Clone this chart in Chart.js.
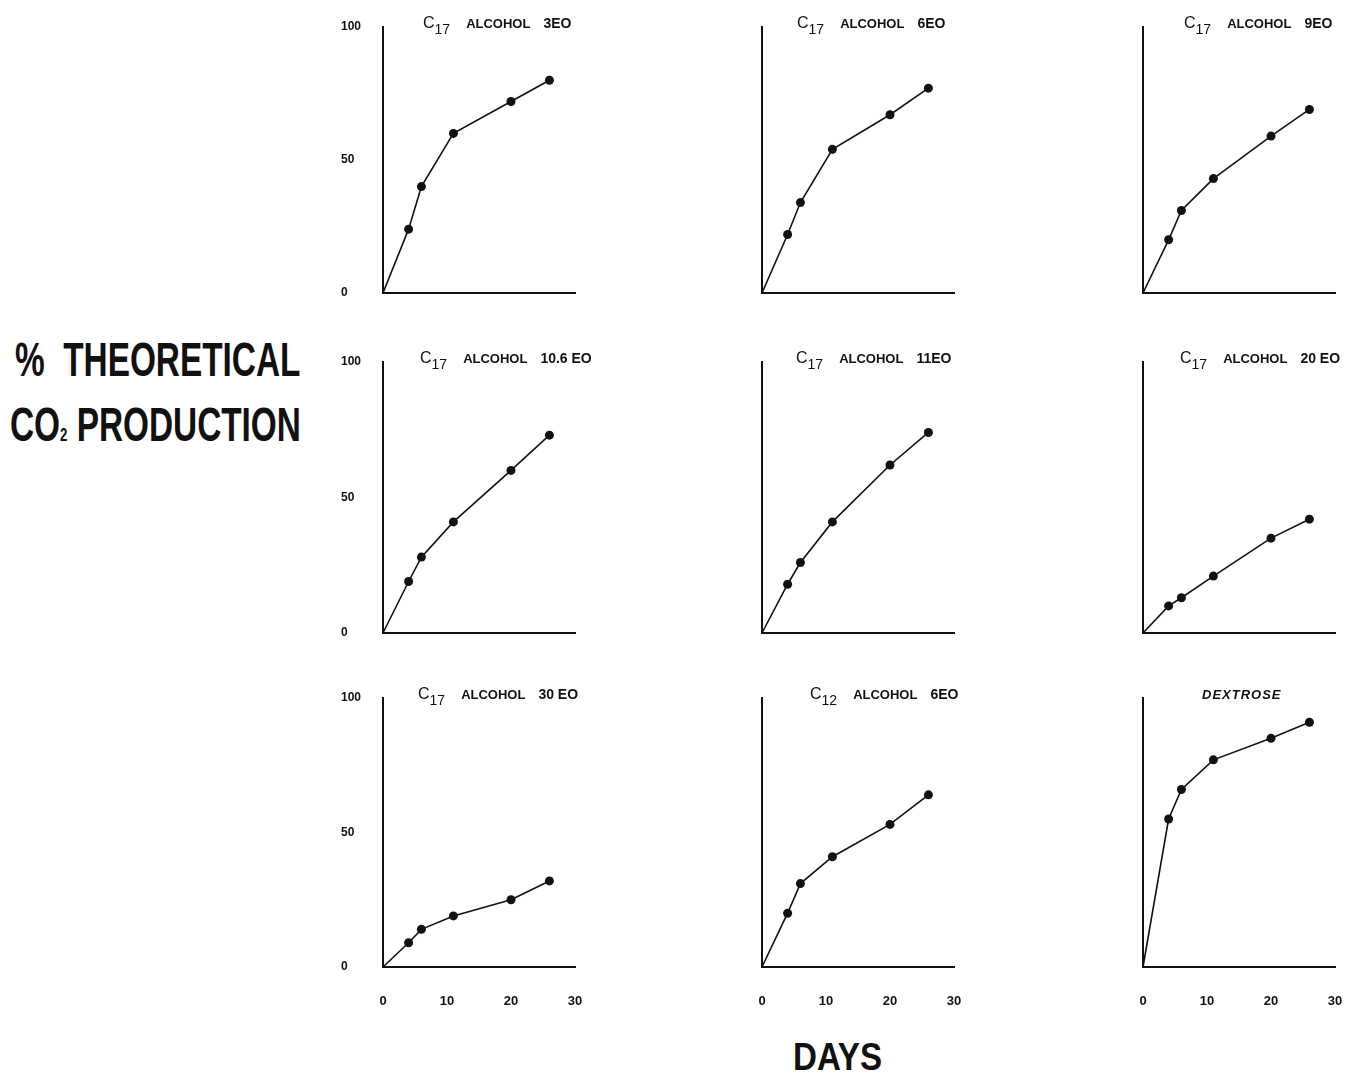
<!DOCTYPE html>
<html>
<head>
<meta charset="utf-8">
<script src="https://cdn.jsdelivr.net/npm/chart.js@4.4.1/dist/chart.umd.min.js"></script>
<style>
  body { margin: 0; background: #fff; }
  #page { position: relative; width: 1351px; height: 1076px; overflow: hidden; }
  canvas { position: absolute; }
  .big {
    position: absolute;
    font-family: "Liberation Sans", sans-serif;
    font-weight: bold;
    font-size: 48px;
    line-height: 48px;
    white-space: pre;
    color: #111;
    transform-origin: 0 0;
    transform: scaleX(0.695);
  }
  .big small { font-size: 19px; }
</style>
</head>
<body>
<div id="page">
  <div class="big" style="left:15px; top:336px;">%  THEORETICAL</div>
  <div class="big" style="left:10px; top:401px;">CO<small>2</small> PRODUCTION</div>
  <div class="big" style="left:793px; top:1037px; font-size:39px; line-height:39px; transform:scaleX(0.85);">DAYS</div>
</div>
<script>
// days of measurement (shared by all panels)
const days = [0, 4, 6, 11, 20, 26];

// % theoretical CO2 production
const c17_3eo   = [0, 24, 40, 60, 72, 80];
const c17_6eo   = [0, 22, 34, 54, 67, 77];
const c17_9eo   = [0, 20, 31, 43, 59, 69];
const c17_106eo = [0, 19, 28, 41, 60, 73];
const c17_11eo  = [0, 18, 26, 41, 62, 74];
const c17_20eo  = [0, 10, 13, 21, 35, 42];
const c17_30eo  = [0, 9, 14, 19, 25, 32];
const c12_6eo   = [0, 20, 31, 41, 53, 64];
const dextrose  = [0, 55, 66, 77, 85, 91];

const yTicks = [0, 50, 100];
const xTicks = [0, 10, 20, 30];

// panel titles: [carbon number, word, suffix]
const titles = [
  ["17", "ALCOHOL", "3EO"],
  ["17", "ALCOHOL", "6EO"],
  ["17", "ALCOHOL", "9EO"],
  ["17", "ALCOHOL", "10.6 EO"],
  ["17", "ALCOHOL", "11EO"],
  ["17", "ALCOHOL", "20 EO"],
  ["17", "ALCOHOL", "30 EO"],
  ["12", "ALCOHOL", "6EO"],
  ["", "DEXTROSE", ""]
];
const series = [c17_3eo, c17_6eo, c17_9eo, c17_106eo, c17_11eo, c17_20eo, c17_30eo, c12_6eo, dextrose];

// layout
const colX = [383, 762, 1143];
const rowTop = [27, 362, 698];
const rowBase = [293, 633, 967];
const titleOffset = [40, 35, 41, 37, 34, 37, 35, 48, 59];
const plotW = 192, yAxisW = 42, padTop = 18, xAxisH = 48, padRight = 16;
const ink = "#111";

const titlePlugin = {
  id: "panelTitle",
  afterDraw(chart, args, opts) {
    const { ctx, chartArea } = chart;
    const t = opts.text;
    let x = chartArea.left + opts.offset;
    const base = chartArea.top + 1;
    ctx.save();
    ctx.fillStyle = ink;
    ctx.textBaseline = "alphabetic";
    if (t[0]) {
      ctx.font = '16px "Liberation Sans"';
      ctx.fillText("C", x, base);
      x += ctx.measureText("C").width;
      ctx.font = '14px "Liberation Sans"';
      ctx.fillText(t[0], x, base + 6);
      x += ctx.measureText(t[0]).width + 16;
      ctx.font = 'bold 13px "Liberation Sans"';
      ctx.fillText(t[1], x, base);
      x += ctx.measureText(t[1]).width + 13;
      ctx.font = 'bold 14px "Liberation Sans"';
      ctx.fillText(t[2], x, base);
    } else {
      ctx.font = 'italic bold 13px "Liberation Sans"';
      ctx.letterSpacing = "1px";
      ctx.fillText(t[1], x, base);
    }
    ctx.restore();
  }
};

const page = document.getElementById("page");

series.forEach((vals, i) => {
  const row = Math.floor(i / 3), col = i % 3;
  const plotH = rowBase[row] - rowTop[row];
  const cv = document.createElement("canvas");
  const w = yAxisW + plotW + padRight, h = padTop + plotH + xAxisH;
  cv.width = w; cv.height = h;
  cv.style.left = (colX[col] - yAxisW) + "px";
  cv.style.top = (rowTop[row] - padTop) + "px";
  cv.style.width = w + "px"; cv.style.height = h + "px";
  page.appendChild(cv);

  new Chart(cv, {
    type: "line",
    data: {
      datasets: [{
        data: days.map((d, k) => ({ x: d, y: vals[k] })),
        borderColor: ink,
        borderWidth: 1.6,
        backgroundColor: ink,
        pointBackgroundColor: ink,
        pointBorderWidth: 0,
        pointRadius: ctx => (ctx.dataIndex === 0 ? 0 : 4.5),
        tension: 0,
        fill: false,
        clip: false
      }]
    },
    options: {
      responsive: false,
      animation: false,
      devicePixelRatio: 1,
      layout: { padding: { top: padTop, right: padRight, left: 0, bottom: 0 } },
      plugins: {
        legend: { display: false },
        tooltip: { enabled: false },
        panelTitle: { text: titles[i], offset: titleOffset[i] }
      },
      scales: {
        x: {
          type: "linear",
          min: 0, max: 30,
          afterBuildTicks: s => { s.ticks = xTicks.map(v => ({ value: v })); },
          afterFit: s => { s.height = xAxisH; s.paddingLeft = 0; s.paddingRight = 0; },
          grid: { display: false, drawTicks: false },
          border: { display: true, color: ink, width: 2 },
          ticks: {
            display: row === 2,
            padding: 27,
            color: ink,
            font: { family: "Liberation Sans", size: 13, weight: "bold" }
          }
        },
        y: {
          min: 0, max: 100,
          afterBuildTicks: s => { s.ticks = yTicks.map(v => ({ value: v })); },
          afterFit: s => { s.width = yAxisW; s.paddingTop = 0; s.paddingBottom = 0; },
          grid: { display: false, drawTicks: false },
          border: { display: true, color: ink, width: 2 },
          ticks: {
            display: col === 0,
            crossAlign: "far",
            color: ink,
            font: { family: "Liberation Sans", size: 12, weight: "bold" }
          }
        }
      }
    },
    plugins: [titlePlugin]
  });
});
</script>
</body>
</html>
